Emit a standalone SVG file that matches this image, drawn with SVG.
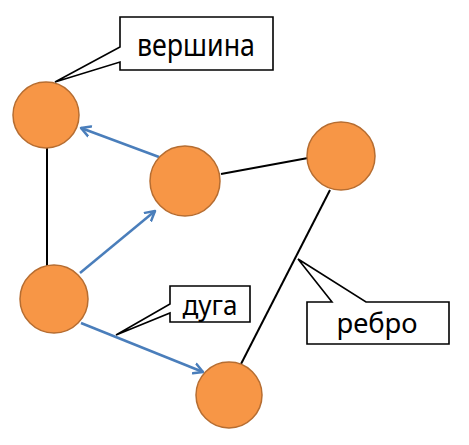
<svg xmlns="http://www.w3.org/2000/svg" width="469" height="445" viewBox="0 0 469 445">
<defs>
<style>
.node{fill:#F79646;stroke:#B66D31;stroke-width:1.5}
.edge{stroke:#000;stroke-width:2;fill:none}
.arc{stroke:#4A7EBB;stroke-width:2.5;fill:none;marker-end:url(#arr)}
.call{fill:#fff;stroke:#000;stroke-width:1.6;stroke-linejoin:miter}
.lbl{font-family:"Noto Sans","Open Sans",sans-serif;font-size:28px;fill:#000;text-anchor:middle}
</style>
<marker id="arr" markerUnits="userSpaceOnUse" markerWidth="14" markerHeight="14" refX="10" refY="6" orient="auto" viewBox="0 0 14 12">
<path d="M1,1 L10,6 L1,11" fill="none" stroke="#4A7EBB" stroke-width="2.5" stroke-linecap="round" stroke-linejoin="round"/>
</marker>
</defs>
<rect width="469" height="445" fill="#fff"/>
<g id="connectors">
<line class="edge" x1="47" y1="148" x2="47" y2="266"/>
<line class="edge" x1="221" y1="174" x2="308" y2="158"/>
<line class="edge" x1="330" y1="190" x2="241" y2="364"/>
<line class="arc" x1="159" y1="157" x2="81" y2="128"/>
<line class="arc" x1="80" y1="273" x2="155" y2="211"/>
<line class="arc" x1="81" y1="323" x2="203" y2="372"/>
</g>
<g id="node-a"><circle class="node" cx="46" cy="115" r="33"/></g>
<g id="node-b"><circle class="node" cx="185" cy="181" r="35"/></g>
<g id="node-c"><circle class="node" cx="341" cy="156" r="34"/></g>
<g id="node-d"><circle class="node" cx="54" cy="299" r="34"/></g>
<g id="node-e"><circle class="node" cx="229" cy="395" r="33"/></g>
<g id="callout-vershina">
<path class="call" d="M120,17 H273 V70 H120 V62 L55,82 L120,47 Z"/>
<text class="lbl" x="196" y="56" style="font-size:30px" textLength="118" lengthAdjust="spacingAndGlyphs">вершина</text>
</g>
<g id="callout-duga">
<path class="call" d="M170,286 H250 V322 H170 V313 L116,335 L170,304 Z"/>
<text class="lbl" x="210" y="315" textLength="55" lengthAdjust="spacingAndGlyphs">дуга</text>
</g>
<g id="callout-rebro">
<path class="call" d="M307,302 H332 L298,259 L366,302 H449 V344 H307 Z"/>
<text class="lbl" x="377" y="333" textLength="81" lengthAdjust="spacingAndGlyphs">ребро</text>
</g>
</svg>
